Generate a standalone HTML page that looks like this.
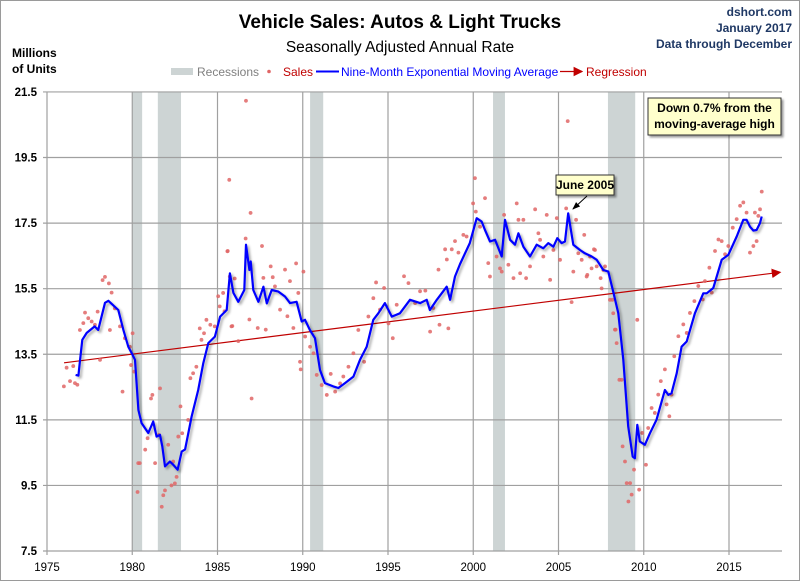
<!DOCTYPE html>
<html><head><meta charset="utf-8">
<style>
html,body{margin:0;padding:0;background:#fff;}
svg{display:block;font-family:"Liberation Sans",sans-serif;}
</style></head>
<body>
<svg id="chart" width="800" height="581" viewBox="0 0 800 581" xmlns="http://www.w3.org/2000/svg">
<defs>
<filter id="sh" x="-5%" y="-5%" width="110%" height="110%"><feDropShadow dx="2" dy="2" stdDeviation="1.2" flood-color="#000" flood-opacity="0.35"/></filter>
<filter id="bsh" x="-10%" y="-10%" width="130%" height="140%"><feDropShadow dx="2" dy="2" stdDeviation="1" flood-color="#000" flood-opacity="0.4"/></filter>
<marker id="arr" markerWidth="8" markerHeight="8" refX="7" refY="4" orient="auto"><path d="M0,0 L8,4 L0,8 z" fill="#c00000"/></marker>
<marker id="arrk" markerWidth="8" markerHeight="8" refX="7" refY="4" orient="auto"><path d="M0,1 L8,4 L0,7 z" fill="#000"/></marker>
</defs>
<rect x="0.5" y="0.5" width="799" height="580" fill="#fff" stroke="#9a9a9a"/>
<g id="recess"></g>
<g id="grid"></g>
<g id="reg"></g>
<g id="dots"></g>
<g id="ema"></g>
<g id="axes"></g>

<text x="400" y="28" text-anchor="middle" font-size="19" font-weight="bold" fill="#000">Vehicle Sales: Autos &amp; Light Trucks</text>
<text x="400" y="52" text-anchor="middle" font-size="15.5" fill="#000">Seasonally Adjusted Annual Rate</text>
<text x="12" y="57" font-size="12" font-weight="bold" fill="#000"><tspan x="12">Millions</tspan><tspan x="12" dy="16">of Units</tspan></text>
<g font-size="12" font-weight="bold" fill="#1f3864" text-anchor="end">
<text x="792" y="16">dshort.com</text><text x="792" y="32">January 2017</text><text x="792" y="48">Data through December</text></g>

<g font-size="12">
<g><rect x="171" y="68" width="22" height="7" fill="#cdd4d4"/><text x="197" y="76" fill="#808080">Recessions</text></g>
<g><circle cx="269" cy="71.5" r="1.8" fill="#e06666"/><text x="283" y="76" fill="#c00000">Sales</text></g>
<g><line x1="316" y1="71.5" x2="339" y2="71.5" stroke="#0000ff" stroke-width="2"/><text x="341" y="76" fill="#0000ff">Nine-Month Exponential Moving Average</text></g>
<g><line x1="560" y1="71.5" x2="582" y2="71.5" stroke="#c00000" stroke-width="1.2" marker-end="url(#arr)"/><text x="586" y="76" fill="#c00000">Regression</text></g>
</g>

<g>
<rect x="648" y="98" width="133" height="37" fill="#ffffcc" stroke="#333" stroke-width="1" filter="url(#bsh)"/>
<text x="714.5" y="112" text-anchor="middle" font-size="12" font-weight="bold" fill="#000">Down 0.7% from the</text>
<text x="714.5" y="128" text-anchor="middle" font-size="12" font-weight="bold" fill="#000">moving-average high</text>
</g>
<g>
<rect x="556" y="175" width="58" height="20" fill="#ffffcc" stroke="#333" stroke-width="1" filter="url(#bsh)"/>
<text x="585" y="189" text-anchor="middle" font-size="12" font-weight="bold" fill="#000">June 2005</text>
<line x1="587" y1="196" x2="573" y2="209" stroke="#000" stroke-width="1" marker-end="url(#arrk)"/>
</g>
</svg>
<script>
const yTicks = [7.5, 9.5, 11.5, 13.5, 15.5, 17.5, 19.5, 21.5];
const xTicks = [1975, 1980, 1985, 1990, 1995, 2000, 2005, 2010, 2015];
const recessionStarts = [1980.0, 1981.5, 1990.43, 2001.16, 2007.9];
const recessionEnds = [1980.58, 1982.86, 1991.2, 2001.86, 2009.5];
const regressionYears = [1976.0, 2018.0];
const regressionValues = [13.24, 16.0];
const emaYears = [1976.68,1976.84,1976.93,1977.07,1977.33,1977.8,1978.0,1978.4,1978.6,1979.18,1979.48,1979.77,1980.0,1980.16,1980.36,1980.55,1980.94,1981.23,1981.43,1981.63,1981.76,1981.92,1982.21,1982.41,1982.66,1982.9,1983.1,1983.48,1983.87,1984.17,1984.46,1984.85,1985.15,1985.54,1985.73,1985.93,1986.22,1986.57,1986.67,1986.87,1986.95,1987.1,1987.4,1987.69,1987.89,1988.18,1988.57,1988.96,1989.25,1989.64,1989.94,1990.13,1990.42,1990.72,1991.01,1991.3,1991.79,1992.09,1992.48,1992.97,1993.36,1993.75,1994.14,1994.43,1994.82,1995.22,1995.7,1996.29,1996.88,1997.27,1997.46,1997.86,1998.44,1998.64,1998.93,1999.22,1999.8,2000.2,2000.49,2000.69,2000.98,2001.28,2001.67,2001.86,2002.16,2002.45,2002.65,2002.94,2003.33,2003.72,2004.11,2004.4,2004.7,2004.93,2005.18,2005.38,2005.57,2005.87,2006.26,2006.55,2006.95,2007.24,2007.63,2007.92,2008.21,2008.51,2008.8,2009.09,2009.35,2009.48,2009.62,2009.77,2010.07,2010.36,2010.75,2011.24,2011.44,2011.63,2011.93,2012.22,2012.52,2013.0,2013.49,2013.69,2014.08,2014.57,2014.96,2015.45,2015.84,2016.03,2016.23,2016.43,2016.62,2016.82,2016.92];
const emaValues = [12.87,12.85,13.28,13.94,14.15,14.35,14.24,15.07,15.13,14.85,14.24,13.73,13.5,13.33,11.8,11.4,11.1,11.45,10.99,11.04,10.69,10.08,10.23,10.13,9.98,10.53,10.6,11.6,12.41,13.23,13.84,14.04,14.65,14.85,15.97,15.37,15.1,15.46,16.84,16.07,16.33,15.46,15.1,15.56,15.05,15.46,15.41,15.26,15.06,15.1,14.5,14.55,14.24,13.99,13.02,12.62,12.52,12.47,12.62,12.82,13.33,13.73,14.55,14.75,15.06,14.65,14.75,15.16,15.06,15.16,14.85,15.16,15.56,15.16,15.87,16.25,16.89,17.65,17.55,17.29,16.94,16.99,16.48,17.6,16.99,16.84,17.19,16.78,16.48,16.84,16.73,16.89,16.78,17.04,16.89,16.94,17.8,16.84,16.68,16.58,16.48,16.38,16.07,16.02,15.41,14.75,13.33,11.3,10.38,10.33,11.35,10.84,10.74,11.09,11.5,12.41,12.26,12.31,12.92,13.73,13.89,14.75,15.36,15.36,15.52,16.38,16.53,17.09,17.6,17.6,17.39,17.27,17.29,17.5,17.7];
const salesYears = [1975.99,1976.15,1976.35,1976.54,1976.64,1976.78,1976.93,1977.13,1977.23,1977.42,1977.62,1977.81,1977.97,1978.11,1978.26,1978.4,1978.63,1978.79,1978.98,1978.69,1979.28,1979.57,1979.86,1980.02,1979.93,1980.11,1979.43,1980.35,1980.44,1980.31,1981.1,1981.18,1981.63,1980.76,1980.9,1981.34,1981.57,1981.82,1981.73,1981.92,1982.11,1982.4,1982.3,1982.5,1982.6,1982.7,1982.93,1982.83,1983.28,1983.41,1983.57,1983.76,1984.06,1983.96,1984.21,1984.35,1984.58,1984.84,1985.04,1985.13,1985.33,1985.58,1985.72,1985.82,1986.01,1985.69,1986.67,1986.94,1986.65,1985.6,1985.41,1985.87,1986.22,1986.87,1987.61,1987.69,1988.12,1988.24,1987.36,1987.83,1987.0,1988.37,1988.67,1988.96,1989.25,1989.1,1989.45,1989.61,1989.74,1990.04,1989.84,1989.88,1990.14,1990.43,1990.63,1990.82,1991.11,1991.41,1991.64,1991.9,1992.19,1992.38,1992.68,1992.97,1993.26,1993.6,1993.85,1994.14,1994.3,1994.53,1994.77,1995.03,1995.28,1995.51,1995.94,1996.2,1996.59,1996.88,1997.19,1997.47,1997.66,1997.96,1998.02,1998.35,1998.45,1998.54,1998.74,1998.93,1999.13,2000.1,1999.99,2000.69,2000.15,2000.4,1999.42,1999.61,2000.88,2000.98,2001.37,2001.57,2001.67,2001.81,2002.06,2002.36,2002.55,2002.65,2002.75,2002.94,2003.1,2003.33,2003.63,2003.82,2003.92,2004.11,2004.31,2004.51,2004.7,2004.9,2005.09,2005.45,2005.54,2005.77,2005.87,2006.03,2006.16,2006.36,2006.51,2006.69,2006.85,2007.08,2007.24,2007.47,2007.63,2007.73,2008.02,2008.16,2008.21,2008.35,2009.62,2006.65,2006.94,2007.14,2007.53,2008.31,2008.41,2008.57,2008.7,2008.76,2008.9,2009.0,2009.2,2009.1,2009.29,2009.43,2009.73,2009.91,2010.13,2010.26,2010.46,2010.65,2010.85,2011.0,2011.24,2011.34,2011.5,2011.63,2011.79,2012.03,2012.32,2012.52,2012.71,2012.97,2013.2,2013.46,2013.59,2013.85,2013.99,2014.18,2014.38,2014.57,2014.77,2014.96,2015.22,2015.45,2015.65,2015.84,2016.03,2016.23,2016.43,2016.52,2016.62,2016.72,2016.82,2016.92];
const salesValues = [12.52,13.09,12.68,13.14,12.62,12.57,14.24,14.45,14.77,14.6,14.5,14.4,14.8,13.33,15.76,15.86,15.66,15.38,14.9,14.24,14.35,13.99,13.73,14.14,13.17,12.97,12.36,10.18,10.18,9.3,12.15,12.26,12.46,10.59,10.94,10.18,11.04,9.2,8.85,9.35,10.74,10.23,9.5,9.56,9.76,10.99,11.09,11.91,11.5,12.77,12.92,13.12,13.94,14.29,14.14,14.55,14.4,14.35,15.27,14.96,15.37,16.64,15.87,14.35,15.81,18.82,21.23,17.81,17.03,16.65,14.81,14.36,13.9,14.56,16.8,15.83,16.18,15.85,14.3,14.25,12.15,15.57,14.86,16.08,15.73,14.66,14.3,16.27,15.37,16.02,13.27,13.04,14.04,13.73,13.53,12.87,12.56,12.26,12.9,12.36,12.61,12.82,13.12,13.53,14.24,13.27,14.65,15.21,15.69,14.86,15.52,14.44,13.99,15.01,15.88,15.67,15.06,15.42,15.44,14.19,14.91,16.08,14.4,16.7,16.39,14.29,16.7,16.95,16.6,18.87,18.1,18.26,17.85,17.39,17.14,17.09,16.28,15.87,16.48,16.12,16.02,17.75,16.23,15.82,18.1,17.6,15.97,17.6,15.82,16.18,17.92,17.19,16.99,16.48,17.75,15.77,16.68,17.65,16.38,17.95,20.61,15.09,16.02,17.6,16.58,16.38,17.14,15.92,16.48,16.7,16.18,15.82,16.07,16.18,15.16,15.16,14.75,14.25,14.55,15.87,16.12,16.68,15.51,14.25,13.84,12.72,12.72,10.69,10.23,9.57,9.57,9.01,9.22,9.98,9.37,11.1,10.13,11.25,11.86,11.71,12.27,12.68,13.04,11.97,11.61,12.27,13.44,14.05,14.41,14.15,14.76,15.12,15.58,15.17,15.73,16.14,15.38,16.65,17.0,16.95,16.55,16.8,17.36,17.62,18.03,18.13,17.82,16.6,16.8,17.82,16.95,17.72,17.92,18.46];

const NS = 'http://www.w3.org/2000/svg';
const X0 = 47, XPY = 17.05, Y0 = 551, YPU = 32.79, PR = 782;
function xs(yr){ return X0 + (yr - 1975) * XPY; }
function ys(v){ return Y0 - (v - 7.5) * YPU; }
function mk(tag, attrs, parent){ const e = document.createElementNS(NS, tag); for (const k in attrs) e.setAttribute(k, attrs[k]); parent.appendChild(e); return e; }

const gR = document.getElementById('recess');
for (let i = 0; i < recessionStarts.length; i++) {
  const r = mk('rect', {x: xs(recessionStarts[i]), y: ys(21.5), width: xs(recessionEnds[i]) - xs(recessionStarts[i]), height: ys(7.5) - ys(21.5), fill: '#cdd4d4'}, gR);
  
  
}
const gG = document.getElementById('grid');
yTicks.forEach(t => {
  const l = mk('line', {x1: X0 - 4, x2: PR, y1: ys(t), y2: ys(t), stroke: '#a0a0a0', 'stroke-width': 1.2}, gG);
  
  
});
xTicks.forEach(t => {
  const l = mk('line', {x1: xs(t), x2: xs(t), y1: ys(21.5), y2: ys(7.5) + 4, stroke: '#a0a0a0', 'stroke-width': 1.2}, gG);
  
  
});
const gA = document.getElementById('axes');
yTicks.forEach(t => {
  const tx = mk('text', {x: 37, y: ys(t) + 4, 'text-anchor': 'end', 'font-size': 11.5, 'font-weight': 'bold', fill: '#000'}, gA);
  tx.textContent = t.toFixed(1);
  
  
});
xTicks.forEach(t => {
  const tx = mk('text', {x: xs(t), y: 571, 'text-anchor': 'middle', 'font-size': 11.5, fill: '#000'}, gA);
  tx.textContent = String(t);
  
  
});
const gReg = document.getElementById('reg');
const rl = mk('line', {x1: xs(regressionYears[0]), y1: ys(regressionValues[0]), x2: xs(regressionYears[1]), y2: ys(regressionValues[1]), stroke: '#c00000', 'stroke-width': 1.2, 'marker-end': 'url(#arr)'}, gReg);



const gD = document.getElementById('dots');
for (let i = 0; i < salesYears.length; i++) {
  const c = mk('circle', {cx: xs(salesYears[i]), cy: ys(salesValues[i]), r: 1.9, fill: '#e06666', 'fill-opacity': 0.85}, gD);
  
  
}
const gE = document.getElementById('ema');
let d = '';
for (let i = 0; i < emaYears.length; i++) d += (i ? 'L' : 'M') + xs(emaYears[i]).toFixed(1) + ',' + ys(emaValues[i]).toFixed(1);
const p = mk('path', {d: d, fill: 'none', stroke: '#0000ff', 'stroke-width': 2.2, 'stroke-linejoin': 'round', filter: 'url(#sh)'}, gE);


</script>
</body></html>
